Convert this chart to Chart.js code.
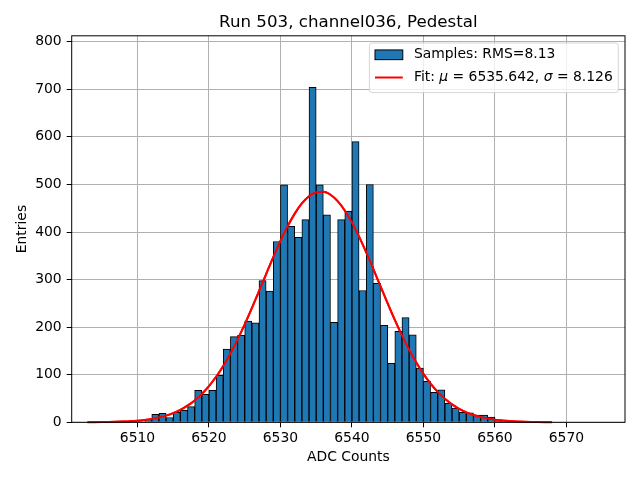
<!DOCTYPE html>
<html>
<head>
<meta charset="utf-8">
<script src="https://cdn.jsdelivr.net/npm/chart.js@4.4.1/dist/chart.umd.min.js"></script>
<style>
  html, body { margin: 0; padding: 0; background: #fff; }
</style>
</head>
<body>
<canvas id="c" width="640" height="480"></canvas>
<script>
const TITLE = 'Run 503, channel036, Pedestal';
const X_LABEL = 'ADC Counts';
const Y_LABEL = 'Entries';

// histogramme : bord gauche de chaque bin (largeur 1) et nombre d'entrées
const BIN_WIDTH = 1;
const binLow = [
  6511, 6512, 6513, 6514, 6515, 6516, 6517, 6518, 6519, 6520,
  6521, 6522, 6523, 6524, 6525, 6526, 6527, 6528, 6529, 6530,
  6531, 6532, 6533, 6534, 6535, 6536, 6537, 6538, 6539, 6540,
  6541, 6542, 6543, 6544, 6545, 6546, 6547, 6548, 6549, 6550,
  6551, 6552, 6553, 6554, 6555, 6556, 6557, 6558, 6559, 6560
];
const counts = [
  6, 17, 19, 10, 21, 25, 33, 67, 59, 67,
  99, 154, 180, 183, 213, 209, 298, 276, 380, 499,
  412, 389, 426, 704, 499, 436, 210, 426, 444, 590,
  277, 500, 292, 204, 124, 191, 220, 184, 114, 86,
  63, 68, 40, 30, 21, 20, 15, 15, 11, 5
];

// courbe d'ajustement gaussien, relevée point par point
const fitX = [
  6503, 6504, 6505, 6506, 6507, 6508, 6509, 6510, 6511, 6512, 6513,
  6514, 6515, 6516, 6517, 6518, 6519, 6520, 6521, 6522, 6523, 6524,
  6525, 6526, 6527, 6528, 6529, 6530, 6531, 6532, 6533, 6534, 6535,
  6536, 6537, 6538, 6539, 6540, 6541, 6542, 6543, 6544, 6545, 6546,
  6547, 6548, 6549, 6550, 6551, 6552, 6553, 6554, 6555, 6556, 6557,
  6558, 6559, 6560, 6561, 6562, 6563, 6564, 6565, 6566, 6567, 6568
];
const fitY = [
  0.15, 0.25, 0.40, 0.63, 0.97, 1.5, 2.2, 3.3, 4.9, 7.0, 10.0,
  14.0, 19.2, 26.1, 34.9, 45.9, 59.6, 76.1, 95.7, 118.5, 144.6, 173.8,
  205.7, 239.9, 275.5, 311.7, 347.3, 381.1, 412.0, 438.7, 460.0, 475.2, 483.5,
  484.5, 478.3, 465.0, 445.3, 420.1, 390.2, 357.1, 321.9, 285.8, 249.9, 215.2,
  182.6, 152.6, 125.6, 101.8, 81.3, 63.9, 49.5, 37.8, 28.4, 21.0, 15.3,
  11.0, 7.8, 5.4, 3.7, 2.5, 1.7, 1.1, 0.71, 0.45, 0.28, 0.17
];

const xTicks = [6510, 6520, 6530, 6540, 6550, 6560, 6570];
const yTicks = [0, 100, 200, 300, 400, 500, 600, 700, 800];

const LEGEND_SAMPLES = 'Samples: RMS=8.13';
// [texte, italique]
const LEGEND_FIT = [['Fit: ', false], ['\u03bc', true], [' = 6535.642, ', false], ['\u03c3', true], [' = 8.126', false]];

const FONT = 'DejaVu Sans';
const FS = 13.9;
const BAR_COLOR = '#1f77b4';
const FIT_COLOR = '#ff0000';
const FIT_WIDTH = 2;

Chart.defaults.font.family = FONT;
Chart.defaults.color = '#000';

// grille, courbe par-dessus, cadre et légende comme dans matplotlib
const overlay = {
  id: 'overlay',
  afterDraw(chart) {
    const { ctx, chartArea: a } = chart;

    ctx.save();
    chart.getDatasetMeta(1).controller.draw();
    ctx.restore();

    ctx.save();
    ctx.strokeStyle = '#000';
    ctx.lineWidth = 1;
    ctx.strokeRect(a.left, a.top, a.right - a.left, a.bottom - a.top);

    const pad = 0.4 * FS, handle = 2 * FS, handlePad = 0.8 * FS;
    ctx.font = `${FS}px ${FONT}`;
    const w1 = ctx.measureText(LEGEND_SAMPLES).width;
    let w2 = 0;
    LEGEND_FIT.forEach(([t, it]) => {
      ctx.font = `${it ? 'italic ' : ''}${FS}px ${FONT}`;
      w2 += ctx.measureText(t).width;
    });
    const boxW = pad + handle + handlePad + Math.max(w1, w2) + pad;
    const boxH = 49.6;
    const boxR = a.right - 6.7;
    const boxL = boxR - boxW;
    const boxT = a.top + 7.2;

    ctx.beginPath();
    ctx.roundRect(boxL, boxT, boxW, boxH, 2.8);
    ctx.fillStyle = 'rgba(255,255,255,0.8)';
    ctx.fill();
    ctx.strokeStyle = 'rgba(204,204,204,0.8)';
    ctx.lineWidth = 1;
    ctx.stroke();

    const hx = boxL + pad;
    const tx = hx + handle + handlePad;
    const r1 = boxT + 11.8, r2 = boxT + 34.5;

    ctx.fillStyle = BAR_COLOR;
    ctx.fillRect(hx, r1 - 4.87, handle, 9.73);
    ctx.strokeStyle = '#000';
    ctx.strokeRect(hx, r1 - 4.87, handle, 9.73);

    ctx.beginPath();
    ctx.moveTo(hx, r2);
    ctx.lineTo(hx + handle, r2);
    ctx.strokeStyle = FIT_COLOR;
    ctx.lineWidth = FIT_WIDTH;
    ctx.stroke();

    ctx.fillStyle = '#000';
    ctx.textBaseline = 'middle';
    ctx.textAlign = 'left';
    ctx.font = `${FS}px ${FONT}`;
    ctx.fillText(LEGEND_SAMPLES, tx, r1);
    let x = tx;
    LEGEND_FIT.forEach(([t, it]) => {
      ctx.font = `${it ? 'italic ' : ''}${FS}px ${FONT}`;
      ctx.fillText(t, x, r2);
      x += ctx.measureText(t).width;
    });
    ctx.restore();
  }
};

new Chart(document.getElementById('c'), {
  type: 'bar',
  data: {
    datasets: [
      {
        type: 'bar',
        label: LEGEND_SAMPLES,
        data: binLow.map((lo, i) => ({ x: lo + BIN_WIDTH / 2, y: counts[i] })),
        backgroundColor: BAR_COLOR,
        borderColor: '#000',
        borderWidth: 1,
        barPercentage: 1,
        categoryPercentage: 1,
        grouped: false
      },
      {
        type: 'line',
        label: 'Fit',
        data: fitX.map((x, i) => ({ x, y: fitY[i] })),
        borderColor: FIT_COLOR,
        borderWidth: FIT_WIDTH,
        pointRadius: 0,
        fill: false,
        cubicInterpolationMode: 'monotone'
      }
    ]
  },
  options: {
    responsive: false,
    animation: false,
    events: [],
    layout: { padding: { left: 0, right: 15, top: 12.2, bottom: 0 } },
    plugins: {
      legend: { display: false },
      tooltip: { enabled: false },
      title: {
        display: true,
        text: TITLE,
        fullSize: false,
        color: '#000',
        font: { size: 16.67, weight: 'normal' },
        padding: { top: 0, bottom: 3.6 }
      }
    },
    scales: {
      x: {
        type: 'linear',
        min: 6500.8,
        max: 6578.2,
        offset: false,
        z: 1,
        afterBuildTicks: s => { s.ticks = xTicks.map(v => ({ value: v })); },
        afterFit: s => { s.height = 57.7; },
        grid: { offset: false, color: '#b0b0b0', lineWidth: 1, tickColor: '#000', tickLength: 5, drawTicks: true },
        border: { display: false },
        ticks: { font: { size: FS }, color: '#000', padding: 2.5, maxRotation: 0, autoSkip: false, callback: v => String(v) },
        title: { display: true, text: X_LABEL, color: '#000', font: { size: FS }, padding: { top: 0, bottom: 14 } }
      },
      y: {
        min: 0,
        max: 812.5,
        z: 1,
        afterBuildTicks: s => { s.ticks = yTicks.map(v => ({ value: v })); },
        afterFit: s => { s.width = 71.7; },
        grid: { offset: false, color: '#b0b0b0', lineWidth: 1, tickColor: '#000', tickLength: 5, drawTicks: true },
        border: { display: false },
        ticks: { font: { size: FS }, color: '#000', padding: 5, callback: v => String(v) },
        title: { display: true, text: Y_LABEL, color: '#000', font: { size: FS }, padding: { top: 13.7, bottom: 0 } }
      }
    }
  },
  plugins: [overlay]
});
</script>
</body>
</html>
